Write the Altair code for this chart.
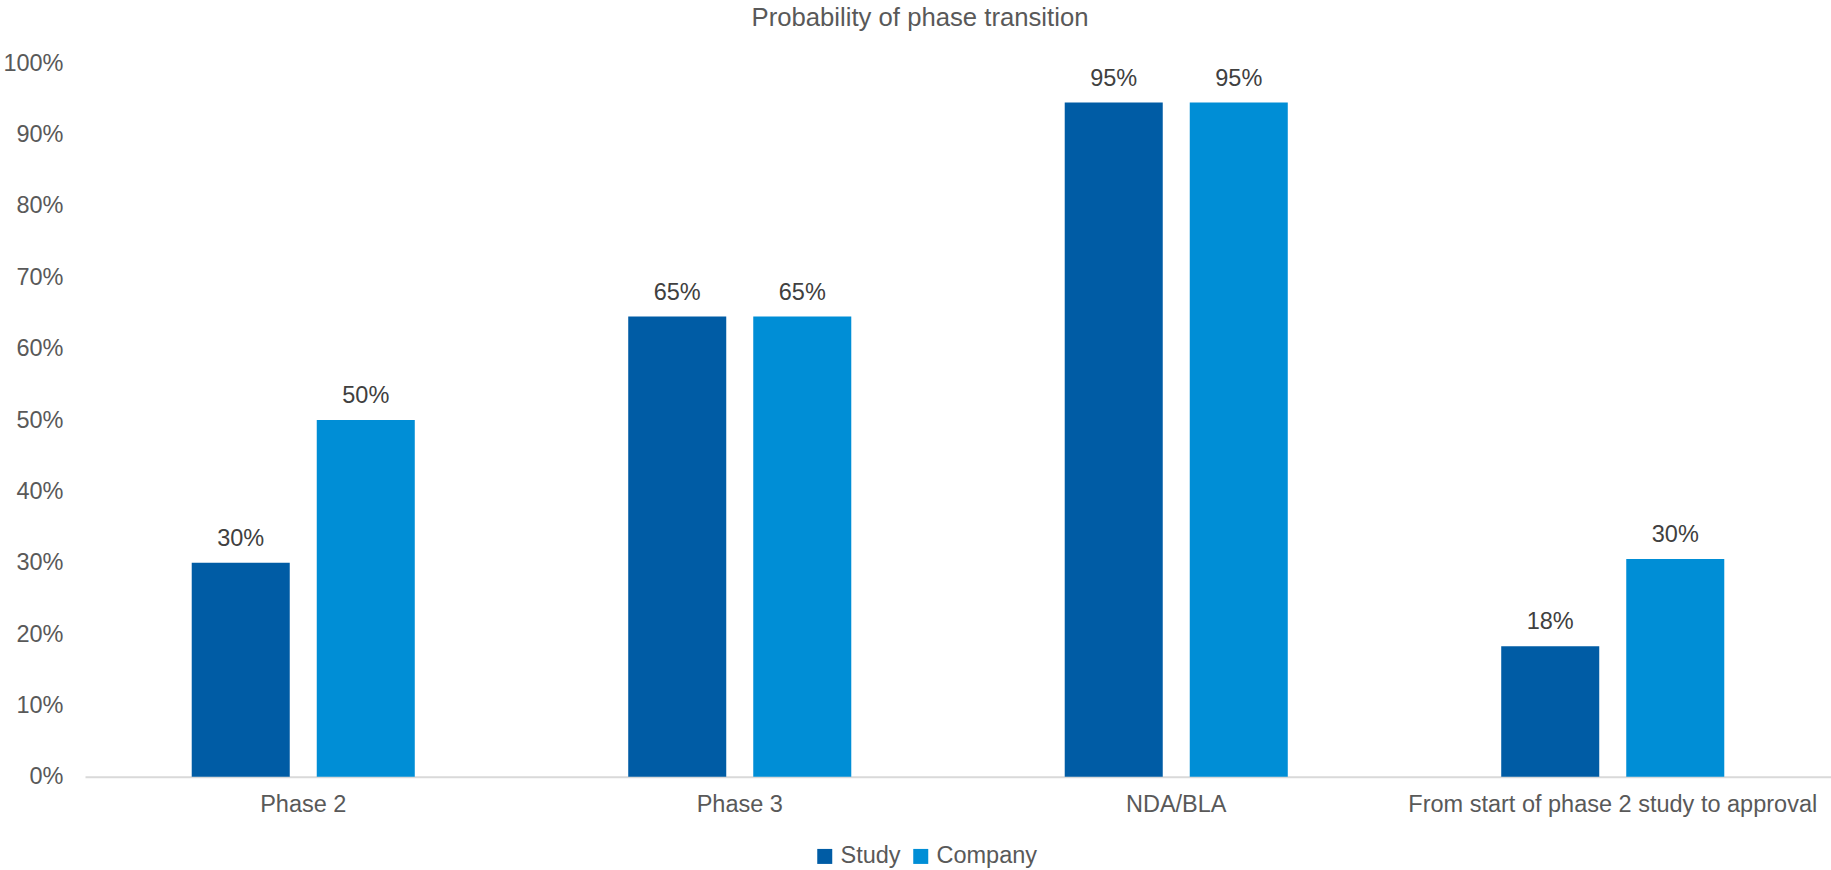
import altair as alt
import pandas as pd

phases = ["Phase 2", "Phase 3", "NDA/BLA", "From start of phase 2 study to approval"]
series = ["Study", "Company"]
study_values = [0.30, 0.645, 0.945, 0.183]
company_values = [0.50, 0.645, 0.945, 0.305]
study_labels = ["30%", "65%", "95%", "18%"]
company_labels = ["50%", "65%", "95%", "30%"]
colors = ["#005CA5", "#008ED6"]
y_ticks = [0, 0.1, 0.2, 0.3, 0.4, 0.5, 0.6, 0.7, 0.8, 0.9, 1.0]

rows = []
for p, v, l in zip(phases, study_values, study_labels):
    rows.append({"Phase": p, "Series": "Study", "Value": v, "Label": l})
for p, v, l in zip(phases, company_values, company_labels):
    rows.append({"Phase": p, "Series": "Company", "Value": v, "Label": l})
df = pd.DataFrame(rows)

FONT = "Liberation Sans"

x_enc = alt.X(
    "Phase:N",
    sort=phases,
    scale=alt.Scale(paddingInner=0.489, paddingOuter=0.2445),
    axis=alt.Axis(
        title=None, labelAngle=0, labelFontSize=23.5, labelColor="#595959",
        labelFont=FONT, domain=True, domainColor="#D9D9D9", domainWidth=2,
        ticks=False, tickSize=0, labelPadding=16, grid=False, labelLimit=0,
    ),
)
xoff = alt.XOffset("Series:N", sort=series, scale=alt.Scale(paddingInner=0.216))
y_enc = alt.Y(
    "Value:Q",
    scale=alt.Scale(domain=[0, 1], nice=False),
    axis=alt.Axis(
        title=None, values=y_ticks, format=".0%", labelFontSize=23.5,
        labelColor="#595959", labelFont=FONT, domain=False, ticks=False,
        tickSize=0, grid=False, labelPadding=22,
    ),
)

bars = alt.Chart(df).mark_bar().encode(
    x=x_enc,
    xOffset=xoff,
    y=y_enc,
    color=alt.Color(
        "Series:N",
        sort=series,
        scale=alt.Scale(domain=series, range=colors),
        legend=alt.Legend(
            title=None, orient="none", direction="horizontal",
            legendX=728, legendY=781, symbolType="square", symbolSize=225,
            symbolStrokeWidth=0, labelFontSize=23.5, labelColor="#595959",
            labelFont=FONT, labelOffset=4, columnPadding=8, padding=0,
        ),
    ),
)

labels = alt.Chart(df).mark_text(
    baseline="middle", dy=-24, fontSize=23.5, color="#404040", font=FONT
).encode(
    x=alt.X("Phase:N", sort=phases),
    xOffset=alt.XOffset("Series:N", sort=series),
    y=alt.Y("Value:Q"),
    text="Label:N",
)

chart = (
    alt.layer(bars, labels)
    .properties(
        width=1746,
        height=713.4,
        padding={"left": 85, "top": 63.3, "right": 0, "bottom": 93.3},
        autosize=alt.AutoSizeParams(type="none"),
        title=alt.TitleParams(
            "Probability of phase transition", fontSize=25.7, fontWeight="normal",
            color="#595959", font=FONT, anchor="middle", dx=-38, offset=0,
            baseline="alphabetic",
        ),
    )
    .configure_view(stroke=None)
)

chart.save("out.html", embed_options={"renderer": "svg", "actions": False})
